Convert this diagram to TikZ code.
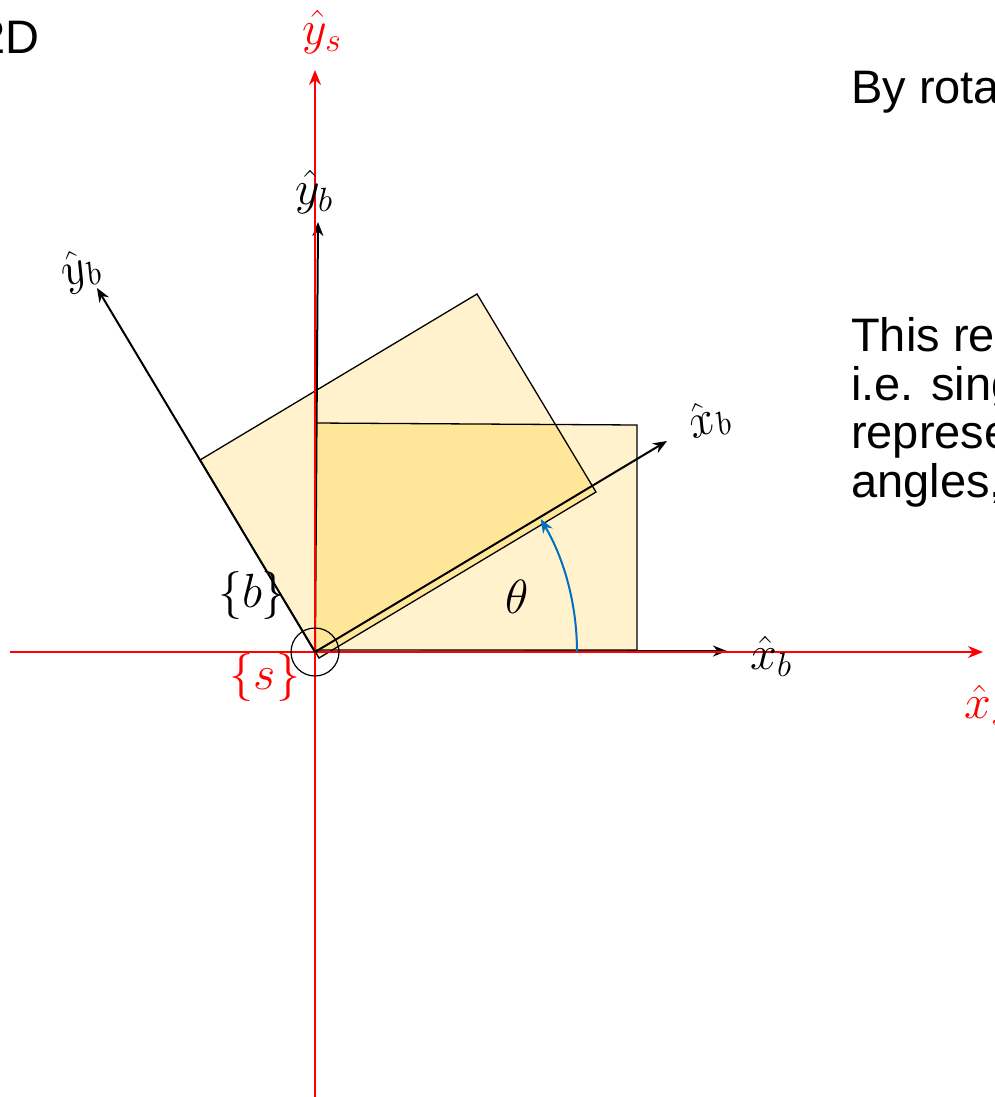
\RequirePackage{fix-cm}
\documentclass[tikz,border=0pt]{standalone}
\usepackage{fontspec}
\setmainfont{Liberation Sans}
\usetikzlibrary{arrows.meta}
\definecolor{lightfill}{RGB}{255,242,204}
\definecolor{darkfill}{RGB}{255,230,153}
\definecolor{axred}{RGB}{255,0,0}
\definecolor{arcblue}{RGB}{0,112,192}
\tikzset{
  redaxis/.style={draw=axred, line width=2pt, -{Stealth[length=15pt,width=12pt]}},
  blackaxis/.style={draw=black, line width=2pt, -{Stealth[length=14pt,width=11pt]}},
  edge/.style={draw=black, line width=1.3pt},
  mlabel/.style={font=\fontsize{48}{52}\selectfont, inner sep=0pt},
  bodytext/.style={font=\fontsize{47}{48.5}\selectfont, inner sep=0pt, align=left}
}
\begin{document}
\begin{tikzpicture}[x=1pt,y=-1pt]
\useasboundingbox (0,0) rectangle (995,1097);
% key points
\coordinate (O) at (315,652);
% unrotated body rectangle
\coordinate (U1) at (315,650);
\coordinate (U2) at (637,650);
\coordinate (U3) at (637,425);
\coordinate (U4) at (315,423);
% rotated body rectangle
\coordinate (R1) at (319,658);
\coordinate (R2) at (596,492);
\coordinate (R3) at (477,294);
\coordinate (R4) at (200,460);
% fills
\fill[lightfill] (U1) -- (U2) -- (U3) -- (U4) -- cycle;
\fill[lightfill] (R1) -- (R2) -- (R3) -- (R4) -- cycle;
\begin{scope}
  \clip (U1) -- (U2) -- (U3) -- (U4) -- cycle;
  \fill[darkfill] (R1) -- (R2) -- (R3) -- (R4) -- cycle;
\end{scope}
% outlines
\draw[edge] (U1) -- (U2) -- (U3) -- (U4);
\draw[edge] (R1) -- (R2) -- (R3) -- (R4) -- cycle;
% black body axes (unrotated)
\coordinate (YBtip) at (318,222);
\coordinate (XBtip) at (727,651);
\draw[blackaxis] (O) -- (YBtip);
\draw[blackaxis] (O) -- (XBtip);
% red space axes
\coordinate (XSstart) at (10,652);
\coordinate (XStip) at (983,652);
\coordinate (YSstart) at (315,1097);
\coordinate (YStip) at (315,70);
\draw[redaxis] (XSstart) -- (XStip);
\draw[redaxis] (YSstart) -- (YStip);
% rotated body axes
\coordinate (XBRtip) at (667,441);
\coordinate (YBRtip) at (97,288);
\draw[blackaxis] (O) -- (XBRtip);
\draw[blackaxis] (O) -- (YBRtip);
% origin circle
\node[draw=black, line width=1.2pt, circle, minimum size=48pt, inner sep=0pt] (origin) at (O) {};
% angle arc
\draw[arcblue, line width=2pt, -{Stealth[length=14pt,width=11pt]}] (577,652) arc[start angle=0, end angle=-30.5, radius=262];
% labels
\node[mlabel, text=axred] (ys) at (322,32) {$\hat{y}_s$};
\node[mlabel, text=axred] (xs) at (986,705) {$\hat{x}_s$};
\node[mlabel, text=axred] (s) at (265,677) {$\{s\}$};
\node[mlabel] (b) at (252,595) {$\{b\}$};
\node[mlabel] (yb) at (314,192) {$\hat{y}_b$};
\node[mlabel] (xb) at (771,656) {$\hat{x}_b$};
\node[mlabel] (theta) at (517,597) {$\theta$};
\node[mlabel, rotate=20] (ybr) at (80,270) {$\hat{y}_b$};
\node[mlabel, rotate=20] (xbr) at (708,420) {$\hat{x}_b$};
% texts
\node[bodytext, anchor=base east] (title) at (40,54) {2D};
\node[bodytext, anchor=base west] (t1) at (851,104) {By rotating};
\node[bodytext, anchor=base west] (t2) at (851,497) {This representation\\i.e. single\\representation\\angles,};
\end{tikzpicture}
\end{document}
